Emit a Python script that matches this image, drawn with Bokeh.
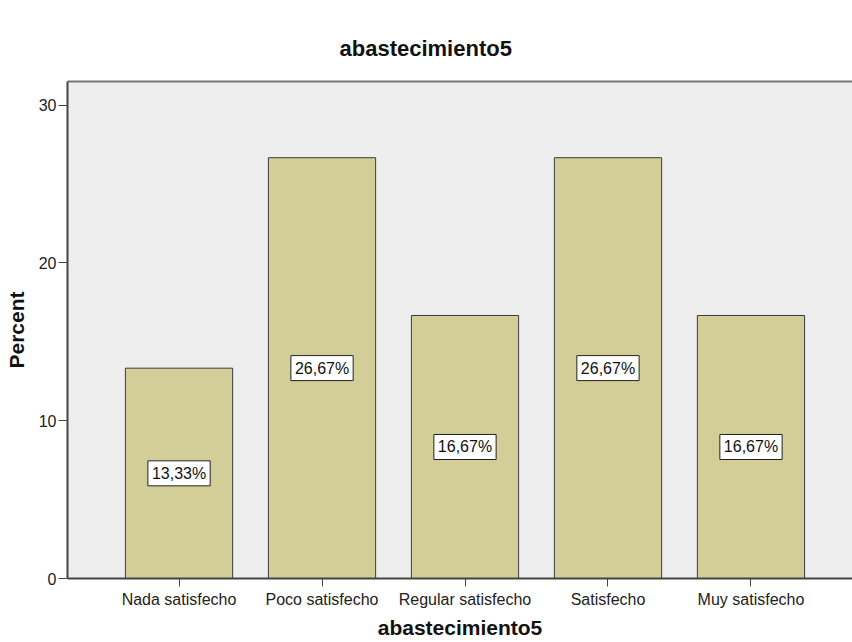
from bokeh.plotting import figure
from bokeh.models import Range1d, FixedTicker, LinearAxis, Label, ColumnDataSource
from bokeh.embed import file_html
from bokeh.resources import INLINE

# Response categories and their share of answers (%)
categories = ["Nada satisfecho", "Poco satisfecho", "Regular satisfecho", "Satisfecho", "Muy satisfecho"]
percents = [13.33, 26.67, 16.67, 26.67, 16.67]
percent_labels = ["13,33%", "26,67%", "16,67%", "26,67%", "16,67%"]
y_ticks = [0, 10, 20, 30]

FONT = "Liberation Sans"
BAR_COLOR = "#D3CE97"
PANEL_BG = "#EEEEEE"

positions = list(range(len(categories)))
source = ColumnDataSource(dict(x=positions, top=percents))

p = figure(
    width=852, height=642,
    x_range=Range1d(-0.78, 4.71), y_range=Range1d(0, 31.5),
    output_backend="svg", toolbar_location=None,
    min_border_left=67, min_border_right=0, min_border_top=81, min_border_bottom=64,
    background_fill_color=PANEL_BG, border_fill_color="white",
    outline_line_color=None,
)

p.title.text = "abastecimiento5"
p.title.align = "left"
p.title.offset = 272
p.title.standoff = 42
p.title.text_font = FONT
p.title.text_font_size = "22px"
p.title.text_font_style = "bold"
p.title.text_color = "#111111"

p.vbar(x="x", top="top", width=0.75, source=source,
       fill_color=BAR_COLOR, line_color="#3c3c3c", line_width=1)

# value boxes in the middle of each bar
for xi, v, txt in zip(positions, percents, percent_labels):
    p.add_layout(Label(
        x=xi, y=v / 2, text=txt,
        text_align="center", text_baseline="middle",
        text_font=FONT, text_font_size="16px", text_color="#111111",
        background_fill_color="white", border_line_color="#222222", border_line_width=1,
        padding=4,
    ))

p.xgrid.visible = False
p.ygrid.visible = False

# x axis
xa = p.xaxis[0]
xa.ticker = FixedTicker(ticks=positions)
xa.major_label_overrides = {i: c for i, c in zip(positions, categories)}
xa.axis_label = "abastecimiento5"
xa.axis_label_text_font = FONT
xa.axis_label_text_font_size = "21px"
xa.axis_label_text_font_style = "bold"
xa.axis_label_text_color = "#111111"
xa.axis_label_standoff = 5
xa.major_label_text_font = FONT
xa.major_label_text_font_size = "16px"
xa.major_label_text_color = "#222222"
xa.major_label_standoff = 4
xa.major_tick_out = 8
xa.major_tick_in = 0
xa.minor_tick_line_color = None
xa.axis_line_color = "#444444"
xa.axis_line_width = 2
xa.major_tick_line_color = "#444444"

# y axis
ya = p.yaxis[0]
ya.ticker = FixedTicker(ticks=y_ticks)
ya.axis_label = "Percent"
ya.axis_label_text_font = FONT
ya.axis_label_text_font_size = "21px"
ya.axis_label_text_font_style = "bold"
ya.axis_label_text_color = "#111111"
ya.axis_label_standoff = 8
ya.major_label_text_font = FONT
ya.major_label_text_font_size = "16px"
ya.major_label_text_color = "#222222"
ya.major_label_standoff = 2
ya.major_tick_out = 9
ya.major_tick_in = 0
ya.minor_tick_line_color = None
ya.axis_line_color = "#444444"
ya.axis_line_width = 2
ya.major_tick_line_color = "#444444"

# top border of the data panel
top_axis = LinearAxis(ticker=FixedTicker(ticks=[]), axis_line_color="#777777",
                      axis_line_width=2, major_tick_line_color=None,
                      minor_tick_line_color=None)
p.add_layout(top_axis, "above")

open("out.html", "w").write(file_html(p, INLINE))
